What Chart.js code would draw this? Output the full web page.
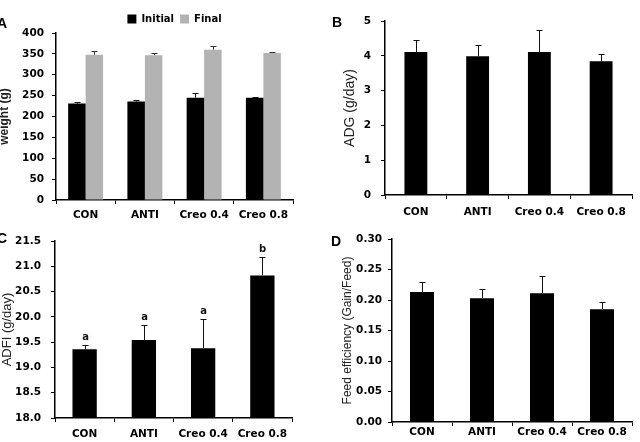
<!DOCTYPE html>
<html>
<head>
<meta charset="utf-8">
<script src="https://cdn.jsdelivr.net/npm/chart.js@4.4.1/dist/chart.umd.min.js"></script>
<style>
  html, body { margin:0; padding:0; background:#fff; overflow:hidden; }
  #wrap { position:relative; width:640px; height:442px; }
  canvas { position:absolute; }
  .lbl { position:absolute; font:bold 14px "Liberation Sans", Arial, sans-serif; line-height:14px; color:#000; }
</style>
</head>
<body>
<div id="wrap">
  <canvas id="cA" width="320" height="221" style="left:0;top:0"></canvas>
  <canvas id="cB" width="320" height="221" style="left:320px;top:0"></canvas>
  <canvas id="cC" width="320" height="221" style="left:0;top:221px"></canvas>
  <canvas id="cD" width="320" height="221" style="left:320px;top:221px"></canvas>
  <div class="lbl" style="left:-3px;top:16px">A</div>
  <div class="lbl" style="left:332px;top:15px">B</div>
  <div class="lbl" style="left:-3px;top:231px">C</div>
  <div class="lbl" style="left:331px;top:234px">D</div>
</div>
<script>
// data
const groups = ['CON', 'ANTI', 'Creo 0.4', 'Creo 0.8'];

const initialWeight = [231, 236, 245, 245];
const initialErr    = [4, 3, 12, 1];
const finalWeight   = [348, 347, 360, 352];
const finalErr      = [9, 5, 9, 3];

const adg    = [4.11, 3.99, 4.11, 3.84];
const adgErr = [0.34, 0.31, 0.64, 0.20];

const adfi        = [19.36, 19.54, 19.38, 20.82];
const adfiErr     = [0.08, 0.29, 0.58, 0.36];
const adfiLetters = ['a', 'a', 'a', 'b'];

const feedEff    = [0.213, 0.203, 0.211, 0.185];
const feedEffErr = [0.016, 0.015, 0.028, 0.012];

const tickFont = {family:'DejaVu Sans', weight:'bold', size:10.5};

// upper error bars (+ optional significance letters)
const errorBars = {
  id: 'errorBars',
  afterDatasetsDraw(chart){
    const ctx = chart.ctx, y = chart.scales.y;
    chart.data.datasets.forEach((ds, i) => {
      if(!ds.errors) return;
      chart.getDatasetMeta(i).data.forEach((bar, j) => {
        const x = Math.round(bar.x) + 0.5;
        const top = Math.round(y.getPixelForValue(ds.data[j] + ds.errors[j])) + 0.5;
        ctx.save();
        ctx.strokeStyle = ds.errorColor || '#111';
        ctx.lineWidth = 1;
        ctx.beginPath();
        ctx.moveTo(x, bar.y); ctx.lineTo(x, top);
        ctx.moveTo(x - 3, top); ctx.lineTo(x + 3, top);
        ctx.stroke();
        if(ds.letters){
          ctx.fillStyle = '#111';
          ctx.font = 'bold 10px "DejaVu Sans"';
          ctx.textAlign = 'center';
          ctx.textBaseline = 'bottom';
          ctx.fillText(ds.letters[j], x, top - 3);
        }
        ctx.restore();
      });
    });
  }
};

function axes(o){
  return {
    x: {
      ticks:{color:'#000', font:tickFont, padding:o.xPad, maxRotation:0, autoSkip:false},
      grid:{drawOnChartArea:false, tickLength:4, color:'#000', offset:true},
      border:{display:true, color:'#000', width:1.5},
      afterFit(s){ s.height = o.xH; }
    },
    y: {
      min:o.min, max:o.max,
      ticks:{stepSize:o.step, color:'#000', font:tickFont, padding:o.yPad,
             callback: v => o.dec == null ? v : Number(v).toFixed(o.dec)},
      grid:{drawOnChartArea:false, tickLength:4, color:'#000'},
      border:{display:true, color:'#000', width:1.5},
      title:{display:true, text:o.title, color:'#222', padding:0,
             font:{family:'Liberation Sans', size:o.tSize, weight:o.tWeight || 'normal', lineHeight:o.tLH || 1.2}},
      afterFit(s){ s.width = o.yW; }
    }
  };
}

function single(id, values, errs, extra, o){
  return new Chart(document.getElementById(id), {
    type:'bar',
    data:{labels:groups, datasets:[Object.assign({
      data:values, errors:errs, backgroundColor:'#000', borderWidth:0,
      barPercentage:o.bp, categoryPercentage:1
    }, extra)]},
    options:{
      responsive:false, animation:false, events:[],
      layout:{padding:o.pad},
      plugins:{legend:{display:false}, tooltip:{enabled:false}},
      scales:axes(o)
    },
    plugins:[errorBars]
  });
}

window.addEventListener('load', ()=>{
  // A: body weight
  new Chart(document.getElementById('cA'), {
    type:'bar',
    data:{labels:groups, datasets:[
      {label:'Initial', data:initialWeight, errors:initialErr, backgroundColor:'#000', borderWidth:0,
       barPercentage:1, categoryPercentage:0.59},
      {label:'Final', data:finalWeight, errors:finalErr, errorColor:'#333', backgroundColor:'#b3b3b3', borderWidth:0,
       barPercentage:1, categoryPercentage:0.59}
    ]},
    options:{
      responsive:false, animation:false, events:[],
      layout:{padding:{left:0, right:27, top:8, bottom:0}},
      plugins:{
        tooltip:{enabled:false},
        legend:{display:true, position:'top', fullSize:false, maxHeight:25,
          labels:{boxWidth:9, boxHeight:9, padding:6, color:'#000',
                  font:{family:'DejaVu Sans', weight:'bold', size:10}}}
      },
      scales:axes({min:0, max:400, step:50, title:'weight (g)', tSize:12, tWeight:'bold', tLH:0.8,
                   yW:56, xH:21, xPad:5, yPad:8})
    },
    plugins:[errorBars]
  });

  // B: ADG
  single('cB', adg, adgErr, {}, {min:0, max:5, step:1, title:'ADG (g/day)', tSize:14,
    yW:43, xH:26, xPad:7, yPad:10, bp:0.37, pad:{left:22, right:8, top:21, bottom:0}});

  // C: ADFI
  single('cC', adfi, adfiErr, {letters:adfiLetters}, {min:18, max:21.5, step:0.5, dec:1, title:'ADFI (g/day)', tSize:13,
    yW:55, xH:24, xPad:6, yPad:10, bp:0.41, pad:{left:0, right:28, top:20, bottom:0}});

  // D: feed efficiency
  single('cD', feedEff, feedEffErr, {}, {min:0, max:0.3, step:0.05, dec:2, title:'Feed efficiency (Gain/Feed)', tSize:12,
    yW:52, xH:20, xPad:0, yPad:6, bp:0.4, pad:{left:20, right:8, top:18, bottom:0}});
});
</script>
</body>
</html>
